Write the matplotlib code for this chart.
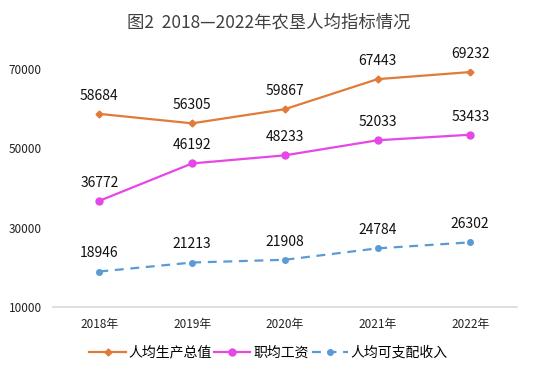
import matplotlib
matplotlib.use('Agg')
import matplotlib.pyplot as plt

plt.rcParams['font.family'] = ['Noto Sans CJK SC', 'DejaVu Sans']

years = ['2018年', '2019年', '2020年', '2021年', '2022年']
gdp = [58684, 56305, 59867, 67443, 69232]
wage = [36772, 46192, 48233, 52033, 53433]
income = [18946, 21213, 21908, 24784, 26302]

fig = plt.figure(figsize=(5.37, 3.75), dpi=100)
ax = fig.add_axes([0.0987, 0.1813, 0.8633, 0.6347])
x = list(range(len(years)))

ax.plot(x, gdp, color='#E07B39', lw=1.6, marker='D', ms=3.5, label='人均生产总值')
ax.plot(x, wage, color='#E647E6', lw=1.6, marker='o', ms=5, label='职均工资')
ax.plot(x, income, color='#5B9BD5', lw=1.6, ls=(0, (4, 3)), marker='o', ms=4, label='人均可支配收入')

for series in (gdp, wage, income):
    for xi, v in zip(x, series):
        ax.annotate(str(v), (xi, v), xytext=(0, 8), textcoords='offset points',
                    ha='center', va='bottom', fontsize=10, color='#111111')

ax.set_xlim(-0.5, 4.5)
ax.set_ylim(10000, 70000)
ax.set_yticks([10000, 30000, 50000, 70000])
ax.set_xticks(x)
ax.set_xticklabels(years)
ax.tick_params(axis='both', length=0, labelsize=8.5, colors='#222222')
ax.tick_params(axis='y', pad=8)
ax.tick_params(axis='x', pad=8)
for s in ['top', 'right', 'left']:
    ax.spines[s].set_visible(False)
ax.spines['bottom'].set_color('#D9D9D9')
ax.spines['bottom'].set_linewidth(1.2)

fig.suptitle('图2  2018—2022年农垦人均指标情况', y=0.965, fontsize=12.5, color='#404040')
fig.legend(loc='center', bbox_to_anchor=(0.5, 0.06), ncol=3, frameon=False,
           fontsize=10, handlelength=2.6, handletextpad=0.2, columnspacing=0.2)

fig.savefig('out.png', dpi=100)
